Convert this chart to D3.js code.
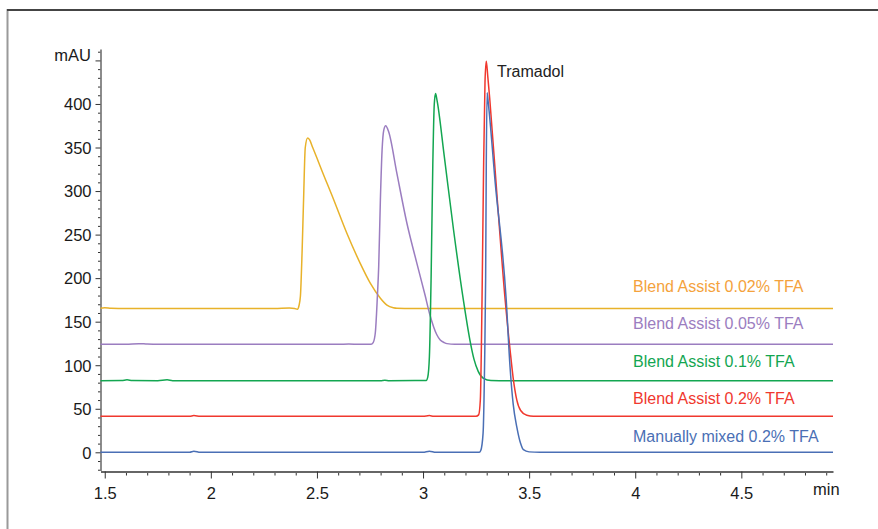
<!DOCTYPE html>
<html>
<head>
<meta charset="utf-8">
<script src="https://cdn.jsdelivr.net/npm/d3@7"></script>
<style>
  html, body { margin: 0; padding: 0; background: #fff; }
  svg { display: block; }
  .num { font-family: "Liberation Sans Narrow", "Arial Narrow", "Liberation Sans", Arial, sans-serif; font-size: 16.5px; fill: #1a1a1a; }
  .lbl { font-family: "Liberation Sans", Arial, sans-serif; font-size: 16px; }
</style>
</head>
<body>
<svg id="chart" width="878" height="529"></svg>
<script>
// ---- data (retention time in min, absorbance in mAU) ----
const seriesNames = ["Blend Assist 0.02% TFA", "Blend Assist 0.05% TFA", "Blend Assist 0.1% TFA", "Blend Assist 0.2% TFA", "Manually mixed 0.2% TFA"];

const tfa002 = [[1.48,165.5],[1.50,166],[1.53,165.3],[1.60,165],[2.00,165],[2.30,165],[2.37,165.6],[2.395,165.2],[2.408,164.3],[2.415,168],[2.422,179],[2.430,230],[2.437,290],[2.445,350],[2.456,361],[2.465,359],[2.48,350],[2.50,338],[2.516,328],[2.579,290],[2.642,251],[2.704,217],[2.752,194],[2.799,177],[2.83,169],[2.86,166],[2.877,165.4],[2.95,165.2],[3.5,165.2],[4.932,165.2]];

const tfa005 = [[1.48,124],[1.60,124],[1.66,124.8],[1.70,124.3],[1.75,124],[2.6,124],[2.65,124.3],[2.70,124],[2.755,124],[2.765,126],[2.775,137],[2.785,180],[2.791,213],[2.799,290],[2.807,347],[2.815,370],[2.824,375],[2.838,368],[2.877,320],[2.924,263],[2.971,217],[3.01,180],[3.03,160],[3.05,144],[3.065,135],[3.081,129],[3.10,126],[3.113,124.8],[3.15,124],[4.932,124]];

const tfa01 = [[1.48,82.3],[1.58,82.5],[1.605,83.2],[1.63,82.5],[1.75,82.3],[1.794,83.2],[1.82,82.3],[2.8,82.3],[2.82,82.8],[2.84,82.3],[3.015,82.5],[3.022,86],[3.03,110],[3.038,200],[3.046,330],[3.053,400],[3.059,412],[3.066,404],[3.1,340],[3.144,255],[3.19,175],[3.22,130],[3.24,107],[3.26,93],[3.285,85],[3.32,82.5],[3.4,82.3],[4.932,82.3]];

const tfa02 = [[1.48,41.4],[1.9,41.4],[1.92,42.2],[1.95,41.4],[3.0,41.4],[3.03,42.2],[3.05,41.4],[3.25,41.5],[3.262,43],[3.27,60],[3.278,175],[3.285,320],[3.292,425],[3.298,449],[3.305,432],[3.315,404],[3.35,290],[3.387,175],[3.41,118],[3.425,85],[3.442,60],[3.46,48],[3.489,42.5],[3.52,41.4],[4.932,41.4]];

const manual02 = [[1.48,0],[1.9,0],[1.92,1.2],[1.95,0],[3.0,0],[3.03,1.2],[3.06,0],[3.265,0],[3.272,2],[3.283,22],[3.29,100],[3.295,200],[3.298,330],[3.302,413],[3.308,400],[3.34,310],[3.392,175],[3.41,98],[3.425,55],[3.442,29],[3.46,10],[3.473,3],[3.5,0.5],[3.55,0],[4.932,0]];

const xMajorTicks = [1.5, 2, 2.5, 3, 3.5, 4, 4.5];
const yMajorTicks = [0, 50, 100, 150, 200, 250, 300, 350, 400, 450];
const yTickLabels = ["0", "50", "100", "150", "200", "250", "300", "350", "400", ""];
const peakLabel = "Tramadol";
const xUnit = "min";
const yUnit = "mAU";

// ---- styling ----
const lineColors = ["#E8B22A", "#9B7DC0", "#13A651", "#F0382E", "#4A6FB5"];
const textColors = ["#F4A23C", "#9B7DC0", "#13A651", "#F0382E", "#4A6FB5"];

const svg = d3.select("#chart");

// frame
svg.append("line").attr("x1", 7.5).attr("x2", 7.5).attr("y1", 9).attr("y2", 529)
  .attr("stroke", "#9a9a9a").attr("stroke-width", 2);
svg.append("line").attr("x1", 7).attr("x2", 878).attr("y1", 10).attr("y2", 10)
  .attr("stroke", "#444").attr("stroke-width", 2);

const x = d3.scaleLinear().domain([1.48, 4.932]).range([100.5, 833]);
const y = d3.scaleLinear().domain([-21, 463]).range([470.6, 49.1]);

// x axis
const xMinor = d3.range(15, 50).map(d => d / 10).filter(d => !xMajorTicks.some(m => Math.abs(m - d) < 1e-9));
const gx = svg.append("g").attr("transform", "translate(0,471.5)");
gx.call(d3.axisBottom(x).tickValues(xMinor).tickSize(4).tickFormat("").tickSizeOuter(0));
gx.call(g => g.select(".domain").remove());
const gx2 = svg.append("g").attr("transform", "translate(0,471.5)");
gx2.call(d3.axisBottom(x).tickValues(xMajorTicks).tickSize(7).tickSizeOuter(0).tickPadding(5).tickFormat(d3.format("~g")));
gx2.select(".domain").attr("stroke", "#666").attr("stroke-width", 2);
gx2.selectAll("text").attr("class", "num").attr("font-family", null).attr("font-size", null).attr("fill", null).attr("dy", "0.95em");

// y axis
const yMinor = d3.range(-20, 461, 10).filter(d => d % 50 !== 0);
const gy = svg.append("g").attr("transform", "translate(100.5,0)");
gy.call(d3.axisLeft(y).tickValues(yMinor).tickSize(2.5).tickFormat("").tickSizeOuter(0));
gy.call(g => g.select(".domain").remove());
const gy2 = svg.append("g").attr("transform", "translate(100.5,0)");
gy2.call(d3.axisLeft(y).tickValues(yMajorTicks).tickSize(5).tickPadding(4).tickSizeOuter(0)
  .tickFormat((d, i) => yTickLabels[i]));
gy2.select(".domain").attr("stroke", "#666").attr("stroke-width", 1.5);
gy2.selectAll("text").attr("class", "num").attr("font-family", null).attr("font-size", null).attr("fill", null).attr("dy", "0.35em");
svg.selectAll("g .tick line").attr("stroke", "#333");

// unit labels
svg.append("text").attr("class", "num").attr("x", 91).attr("y", 60.5).attr("text-anchor", "end").text(yUnit);
svg.append("text").attr("class", "num").attr("x", 813).attr("y", 495).text(xUnit);

// traces
const line = d3.line().x(d => x(d[0])).y(d => y(d[1])).curve(d3.curveMonotoneX);
const traces = [tfa002, tfa005, tfa01, tfa02, manual02];
traces.forEach((s, i) => {
  svg.append("path").datum(s).attr("d", line)
    .attr("fill", "none").attr("stroke", lineColors[i]).attr("stroke-width", 1.5)
    .attr("stroke-linejoin", "round");
});

// series labels
seriesNames.forEach((name, i) => {
  svg.append("text").attr("class", "lbl").attr("x", 633).attr("y", 291.7 + i * 37.5)
    .attr("fill", textColors[i]).text(name);
});

// peak label
svg.append("text").attr("class", "lbl").attr("x", 497).attr("y", 77).attr("fill", "#222").text(peakLabel);
</script>
</body>
</html>
